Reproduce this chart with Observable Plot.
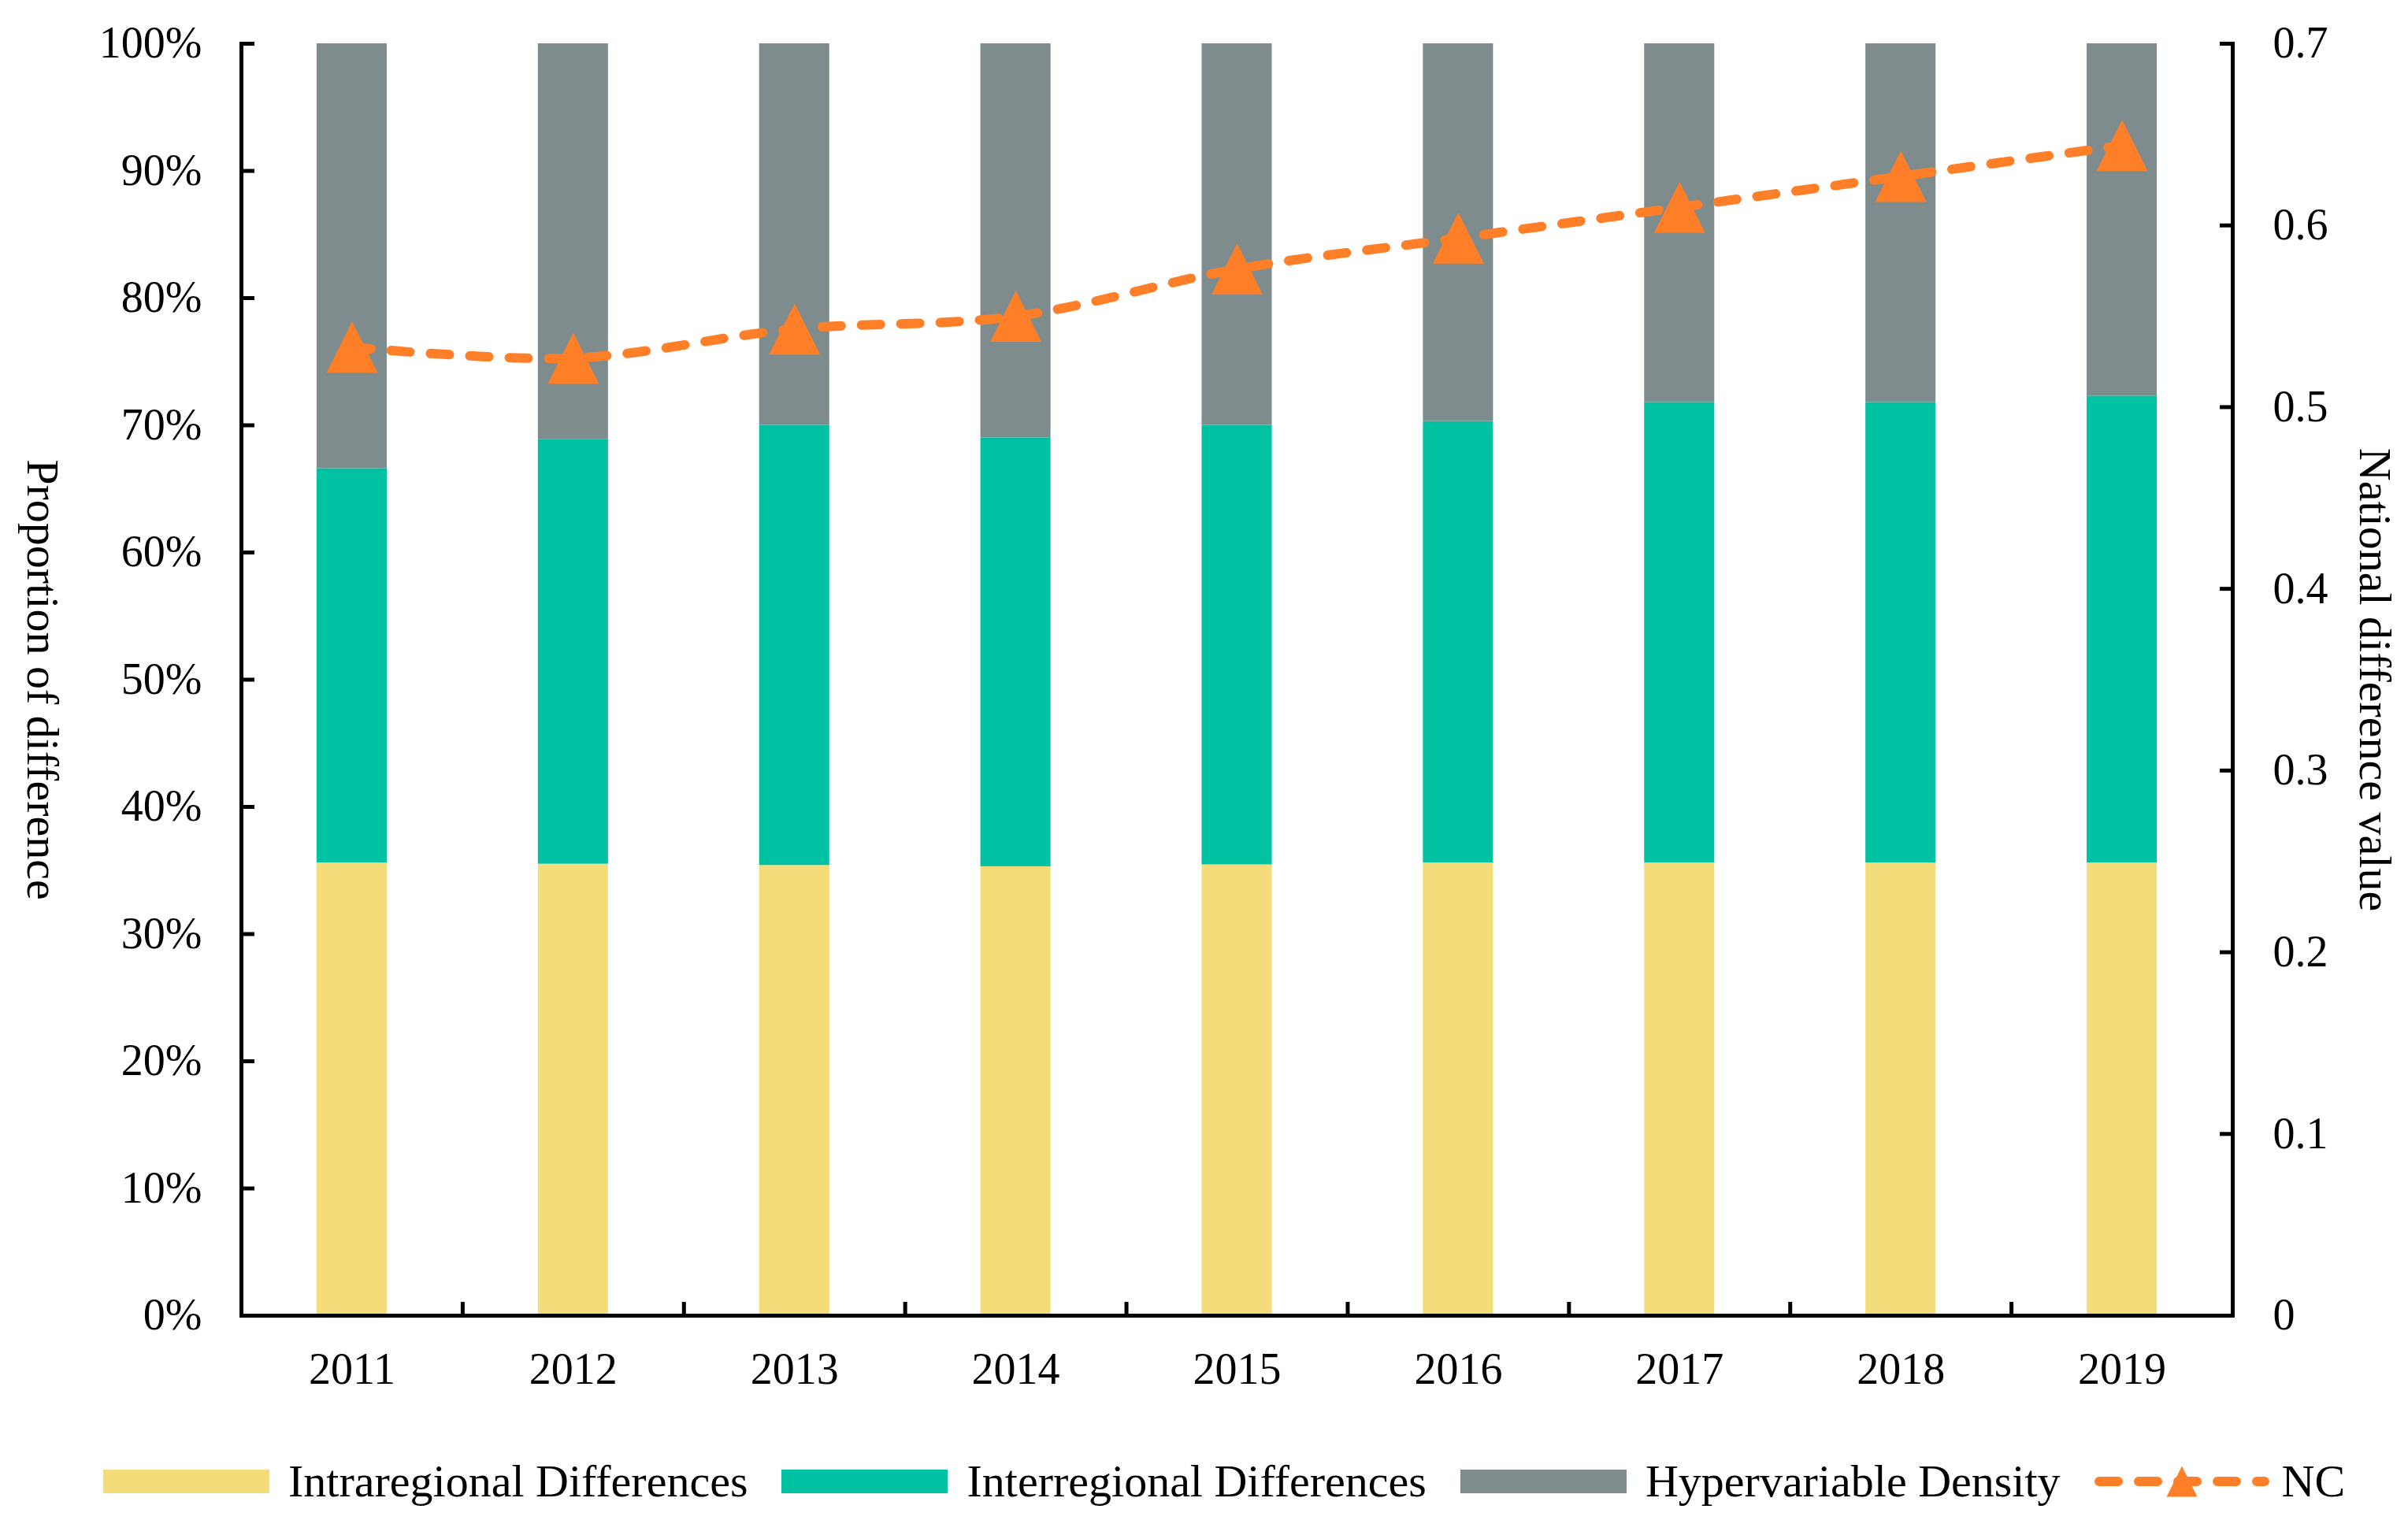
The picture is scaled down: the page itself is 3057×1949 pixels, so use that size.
<!DOCTYPE html>
<html>
<head>
<meta charset="utf-8">
<script src="https://cdn.jsdelivr.net/npm/d3@7"></script>
<script src="https://cdn.jsdelivr.net/npm/@observablehq/plot@0.6"></script>
<style>
  html, body { margin: 0; padding: 0; background: #fff; }
  #wrap { width: 3057px; font-family: "Liberation Serif", "Times New Roman", serif; color: #000; }
  #wrap svg { display: block; }
  .legend { position: relative; height: 159px; }
  .row { position: absolute; top: 62px; left: 131px; display: flex; align-items: center; height: 58px; font-size: 58px; line-height: 58px; white-space: nowrap; }
  .sw { width: 211px; height: 30px; margin-right: 24px; }
  .item { display: flex; align-items: center; margin-right: 43px; }
</style>
</head>
<body>
<div id="wrap"></div>
<script>
// ---- data ----
const years = ["2011", "2012", "2013", "2014", "2015", "2016", "2017", "2018", "2019"];
const series = ["Intraregional Differences", "Interregional Differences", "Hypervariable Density"];
const intra = [35.6, 35.5, 35.4, 35.3, 35.45, 35.6, 35.6, 35.6, 35.6];
const inter = [31.0, 33.4, 34.6, 33.7, 34.55, 34.7, 36.2, 36.2, 36.7];
const hyper = [33.4, 31.1, 30.0, 31.0, 30.0, 29.7, 28.2, 28.2, 27.7];
const nc = [0.533, 0.527, 0.543, 0.550, 0.576, 0.593, 0.610, 0.627, 0.644];
const leftTicks = [0, 10, 20, 30, 40, 50, 60, 70, 80, 90, 100];
const rightTicks = [0, 0.1, 0.2, 0.3, 0.4, 0.5, 0.6, 0.7];
const rightMax = 0.7;
const ncLabel = "NC";
const leftTitle = "Proportion of difference";
const rightTitle = "National difference value";

// ---- styles ----
const colors = ["#F5DC7B", "#00C2A2", "#7F8C8D"];
const orange = "#FE7F27";
const W = 3057, H = 1790;
const mL = 306, mR = 223, mT = 55, mB = 120;
const fontFamily = "'Liberation Serif', 'Times New Roman', serif";

const table = [];
years.forEach((y, i) => {
  [intra, inter, hyper].forEach((arr, j) => table.push({year: y, series: series[j], value: arr[i]}));
});
const ncTable = years.map((y, i) => ({year: y, pos: nc[i] / rightMax * 100}));

// triangle centred on its bounding box
const tri = {
  draw(ctx, size) {
    const r = Math.sqrt(size / Math.PI);
    ctx.moveTo(0, -r);
    ctx.lineTo(r, r);
    ctx.lineTo(-r, r);
    ctx.closePath();
  }
};

const step = (W - mL - mR) / years.length;

const chart = Plot.plot({
  width: W, height: H,
  marginLeft: mL, marginRight: mR, marginTop: mT, marginBottom: mB,
  style: {fontFamily, fontSize: "56px", background: "white", color: "black", overflow: "visible"},
  x: {type: "band", domain: years, paddingInner: 0.683, paddingOuter: 0.3415, align: 0.5, round: false},
  y: {domain: [0, 100]},
  color: {domain: series, range: colors},
  marks: [
    Plot.barY(table, {x: "year", y: "value", fill: "series"}),
    Plot.line(ncTable, {x: "year", y: "pos", stroke: orange, strokeWidth: 12, strokeDasharray: "24 26", strokeLinecap: "round", curve: "catmull-rom"}),
    Plot.dot(ncTable, {x: "year", y: "pos", symbol: tri, r: 32.5, fill: orange}),
    // frame lines
    Plot.frame({anchor: "left", strokeWidth: 5, strokeLinecap: "square"}),
    Plot.frame({anchor: "right", strokeWidth: 5, strokeLinecap: "square"}),
    Plot.frame({anchor: "bottom", strokeWidth: 5, strokeLinecap: "square"}),
    // left axis
    Plot.axisY({anchor: "left", ticks: leftTicks, tickSize: 17, dx: 17, fill: "none", strokeWidth: 5, label: null}),
    Plot.axisY({anchor: "left", ticks: leftTicks, tickSize: 0, tickPadding: 50, tickFormat: d => d + "%", label: null, fontSize: 56}),
    // right axis
    Plot.axisY({anchor: "right", ticks: rightTicks.map(t => t / rightMax * 100), tickSize: 17, dx: -17, fill: "none", strokeWidth: 5, label: null}),
    Plot.axisY({anchor: "right", ticks: rightTicks.map(t => t / rightMax * 100), tickSize: 0, tickPadding: 51, textAnchor: "start",
      tickFormat: d => String(+(d * rightMax / 100).toFixed(1)), label: null, fontSize: 56}),
    // bottom axis
    Plot.axisX({anchor: "bottom", tickSize: 0, tickPadding: 47, label: null, fontSize: 56}),
    Plot.axisX({anchor: "bottom", ticks: years.slice(0, -1), tickSize: 17, dy: -17, dx: step / 2, fill: "none", strokeWidth: 5, label: null}),
    // axis titles
    Plot.text([leftTitle], {text: d => d, frameAnchor: "left", textAnchor: "middle", lineAnchor: "middle", dx: 53 - mL, rotate: 90, fontSize: 58}),
    Plot.text([rightTitle], {text: d => d, frameAnchor: "right", textAnchor: "middle", lineAnchor: "middle", dx: 3014 - (W - mR), rotate: 90, fontSize: 58})
  ]
});

const wrap = document.getElementById("wrap");
wrap.appendChild(chart);

// legend
const legend = document.createElement("div");
legend.className = "legend";
const row = document.createElement("div");
row.className = "row";
series.forEach((s, i) => {
  const it = document.createElement("div");
  it.className = "item";
  const sw = document.createElement("div");
  sw.className = "sw";
  sw.style.background = colors[i];
  const tx = document.createElement("span");
  tx.textContent = s;
  it.appendChild(sw);
  it.appendChild(tx);
  row.appendChild(it);
});
const it4 = document.createElement("div");
it4.className = "item";
it4.innerHTML = `<svg width="222" height="44" style="margin-right:16px;display:block">
  <line x1="6" x2="216" y1="22" y2="22" stroke="${orange}" stroke-width="12" stroke-dasharray="24 26" stroke-linecap="round"/>
  <path d="M111,2.5 L130.5,41.5 L91.5,41.5 Z" fill="${orange}"/>
</svg><span>${ncLabel}</span>`;
row.appendChild(it4);
legend.appendChild(row);
wrap.appendChild(legend);
</script>
</body>
</html>
